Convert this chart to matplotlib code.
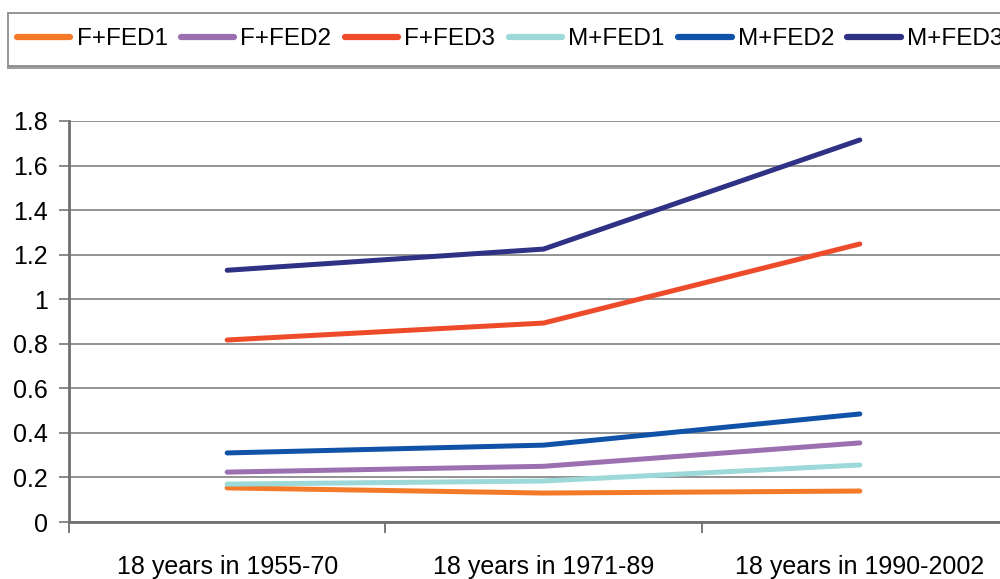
import matplotlib
matplotlib.use("Agg")
import matplotlib.pyplot as plt
from matplotlib.ticker import FixedLocator
from matplotlib.patches import Rectangle
from matplotlib.lines import Line2D

plt.rcParams['font.family'] = ['Liberation Sans', 'DejaVu Sans']

categories = ["18 years in 1955-70", "18 years in 1971-89", "18 years in 1990-2002"]
series_names = ["F+FED1", "F+FED2", "F+FED3", "M+FED1", "M+FED2", "M+FED3"]
f_fed1 = [0.153, 0.130, 0.139]
f_fed2 = [0.224, 0.250, 0.355]
f_fed3 = [0.817, 0.893, 1.248]
m_fed1 = [0.170, 0.184, 0.256]
m_fed2 = [0.310, 0.345, 0.485]
m_fed3 = [1.130, 1.225, 1.715]
colors = ["#F47A2A", "#9B6FB0", "#EE4B2B", "#9DD9D9", "#0F52A8", "#2E3184"]
yticks = [0, 0.2, 0.4, 0.6, 0.8, 1, 1.2, 1.4, 1.6, 1.8]
ytick_labels = ["0", "0.2", "0.4", "0.6", "0.8", "1", "1.2", "1.4", "1.6", "1.8"]

fig = plt.figure(figsize=(10, 5.79), dpi=100)
W, H = 1000, 579
ax = fig.add_axes([69 / W, 1 - 522 / H, (1018 - 69) / W, (522 - 121) / H])

xs = list(range(len(categories)))
for name, vals, c in zip(series_names, [f_fed1, f_fed2, f_fed3, m_fed1, m_fed2, m_fed3], colors):
    ax.plot(xs, vals, color=c, lw=3.6, label=name, solid_capstyle='round', zorder=3)

ax.set_xlim(-0.5, 2.5)
ax.set_ylim(0, 1.8)
ax.set_yticks(yticks)
ax.set_yticklabels(ytick_labels, fontsize=18)
ax.yaxis.grid(True, color="#8a8a8a", lw=1.3)
ax.set_axisbelow(True)

ax.set_xticks(xs)
ax.set_xticklabels(categories, fontsize=18)
ax.xaxis.set_minor_locator(FixedLocator([-0.5, 0.5, 1.5, 2.5]))
ax.tick_params(axis='x', which='major', length=0, pad=24)
ax.tick_params(axis='x', which='minor', length=8, color="#707070", width=1.3)
ax.tick_params(axis='y', length=7, color="#808080", width=1.3, pad=8)

for s in ['top', 'right']:
    ax.spines[s].set_visible(False)
for s in ['left', 'bottom']:
    ax.spines[s].set_color("#707070")
    ax.spines[s].set_linewidth(2)

# legend frame
fig.patches.append(Rectangle((8 / W, 1 - 66 / H), 1.0, 53 / H, transform=fig.transFigure,
                             facecolor='white', edgecolor='#8c8c8c', lw=1.3, zorder=1))
fig.add_artist(Line2D([8 / W, 1.0], [1 - 66.5 / H, 1 - 66.5 / H], transform=fig.transFigure,
                      color='#a0a0a0', lw=2.2, zorder=1))

handles, labels = ax.get_legend_handles_labels()
leg = fig.legend(handles, labels, loc='center left', ncol=6,
                 bbox_to_anchor=(17 / W, 1 - 39 / H),
                 fontsize=17.5, frameon=False, handlelength=2.2,
                 handletextpad=0.25, columnspacing=0.55, borderaxespad=0, borderpad=0)
for l in leg.get_lines():
    l.set_linewidth(4.5)
    l.set_solid_capstyle('round')

fig.savefig("out.png", dpi=100)
